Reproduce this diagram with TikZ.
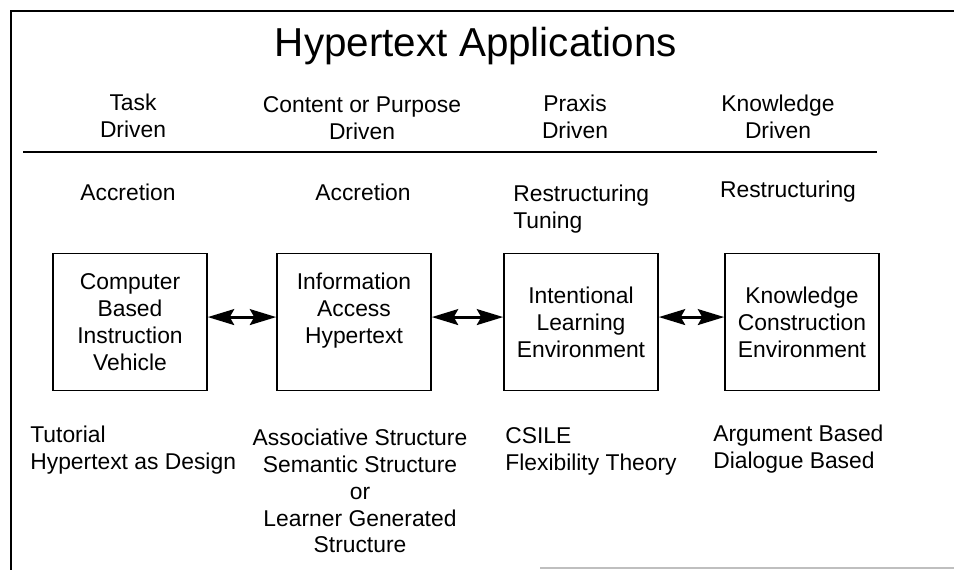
\documentclass[tikz,border=0pt]{standalone}
\usepackage{fontspec}
\setmainfont{Liberation Sans}
\usetikzlibrary{arrows.meta,positioning}

\begin{document}
\begin{tikzpicture}[x=0.02cm, y=-0.02cm, >={Stealth[length=15pt,width=9pt,inset=2.5pt]},
    txt/.style={inner sep=0pt, font=\fontsize{13}{15.3}\selectfont},
    appbox/.style={draw, line width=0.9pt, minimum width=3.08cm, minimum height=2.74cm,
                   align=center, inner sep=0pt, font=\fontsize{13}{15.3}\selectfont},
    link/.style={<->, line width=1.7pt}]
    \useasboundingbox (0,0) rectangle (954,570);

    % Frame
    \draw[line width=0.9pt] (11,570) -- (11,11) -- (954,11);
    \draw[gray!50, line width=0.6pt] (540,568) -- (954,568);

    % Title
    \node[inner sep=0pt, font=\fontsize{23}{27}\selectfont] (title) at (476,46) {Hypertext Applications};

    % Column heads
    \node[txt, align=center] (task) at (133,116) {Task\\Driven};
    \node[txt, align=center] (content) at (362,118) {Content or Purpose\\Driven};
    \node[txt, align=center] (praxis) at (575,117) {Praxis\\Driven};
    \node[txt, align=center] (knowledge) at (778,117) {Knowledge\\Driven};

    \coordinate (sepL) at (23,152);
    \coordinate (sepR) at (877,152);
    \draw[line width=0.8pt] (sepL) -- (sepR);

    % Activities
    \node[txt] (accr1) at (128,192) {Accretion};
    \node[txt] (accr2) at (363,192) {Accretion};
    \node[txt, align=left, anchor=west] (restr1) at (513,209) {Restructuring\\Tuning};
    \node[txt] (restr2) at (788,192) {Restructuring};

    % Boxes
    \node[appbox] (cbi) at (130,322) {Computer\\Based\\Instruction\\Vehicle};
    \node[appbox] (iah) at (354,322) {Information\\Access\\Hypertext\\\mbox{}};
    \node[appbox] (ile) at (581,322) {Intentional\\Learning\\Environment};
    \node[appbox] (kce) at (802,322) {Knowledge\\Construction\\Environment};

    \draw[link] ([yshift=2.8pt]cbi.east) -- ([yshift=2.8pt]iah.west);
    \draw[link] ([yshift=2.8pt]iah.east) -- ([yshift=2.8pt]ile.west);
    \draw[link] ([yshift=2.8pt]ile.east) -- ([yshift=2.8pt]kce.west);

    % Examples
    \node[txt, align=left, anchor=west] (ex1) at (30,450) {Tutorial\\Hypertext as Design};
    \node[txt, align=center] (ex2) at (360,491) {Associative Structure\\Semantic Structure\\or\\Learner Generated\\Structure};
    \node[txt, align=left, anchor=west] (ex3) at (505,451) {CSILE\\Flexibility Theory};
    \node[txt, align=left, anchor=west] (ex4) at (713,449) {Argument Based\\Dialogue Based};
\end{tikzpicture}
\end{document}
